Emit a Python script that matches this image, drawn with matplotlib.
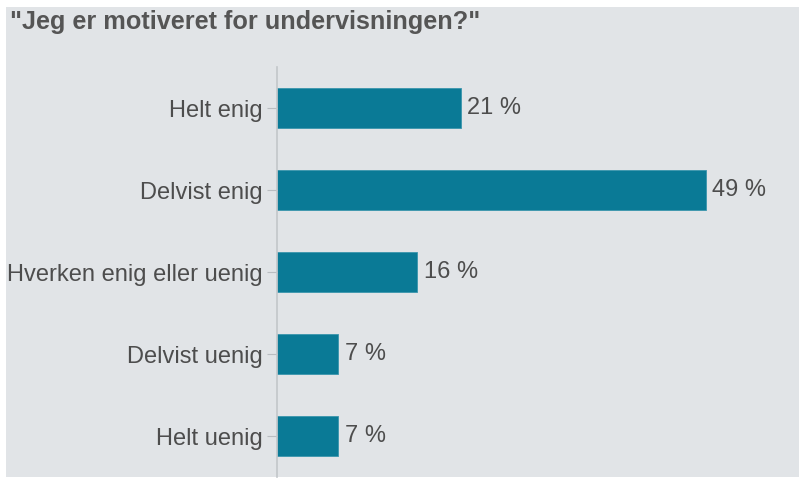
import matplotlib
matplotlib.use("Agg")
import matplotlib.pyplot as plt
from matplotlib.patches import Rectangle

# data
categories = ["Helt enig", "Delvist enig", "Hverken enig eller uenig", "Delvist uenig", "Helt uenig"]
percent = [21, 49, 16, 7, 7]
value_labels = ["21 %", "49 %", "16 %", "7 %", "7 %"]
title = '"Jeg er motiveret for undervisningen?"'

W, H = 799, 478
bg = "#e1e4e7"
bar_color = "#0a7a96"
text_color = "#4d4d4d"

plt.rcParams["font.family"] = ["Liberation Sans", "DejaVu Sans"]

fig = plt.figure(figsize=(W / 100, H / 100), dpi=100)
fig.patch.set_facecolor("white")
# grey panel with a thin white border top/left
fig.patches.append(Rectangle((6 / W, 1 / H), 1 - 6 / W, 1 - 8 / H,
                             transform=fig.transFigure, facecolor=bg,
                             edgecolor="none", zorder=-10))

ax = fig.add_axes([277 / W, 1 / H, 1 - 277 / W, (477 - 67) / H])
ax.set_facecolor("none")
ax.set_zorder(5)

y = list(range(len(categories)))
ax.barh(y, percent, height=0.49, color=bar_color, edgecolor="#3a95ad", linewidth=0.6)
ax.set_ylim(len(categories) - 0.5, -0.5)
ax.set_xlim(0, (W - 277) / 8.75)

for yi, v, lab in zip(y, percent, value_labels):
    ax.text(v + 0.75, yi, lab, va="center", ha="left", fontsize=17, color=text_color)

ax.set_yticks(y)
ax.set_yticklabels(categories, fontsize=17, color=text_color)
ax.set_xticks([])
ax.tick_params(axis="y", length=7, width=0.8, color="#b9bdc1", pad=3)
for s in ["top", "right", "bottom"]:
    ax.spines[s].set_visible(False)
ax.spines["left"].set_color("#c2c6ca")
ax.spines["left"].set_linewidth(1.2)

fig.text(10 / W, 1 - 22 / H, title, fontsize=18.2, fontweight="bold",
         color="#555555", ha="left", va="center")

fig.savefig("out.png", dpi=100, facecolor=fig.get_facecolor())
